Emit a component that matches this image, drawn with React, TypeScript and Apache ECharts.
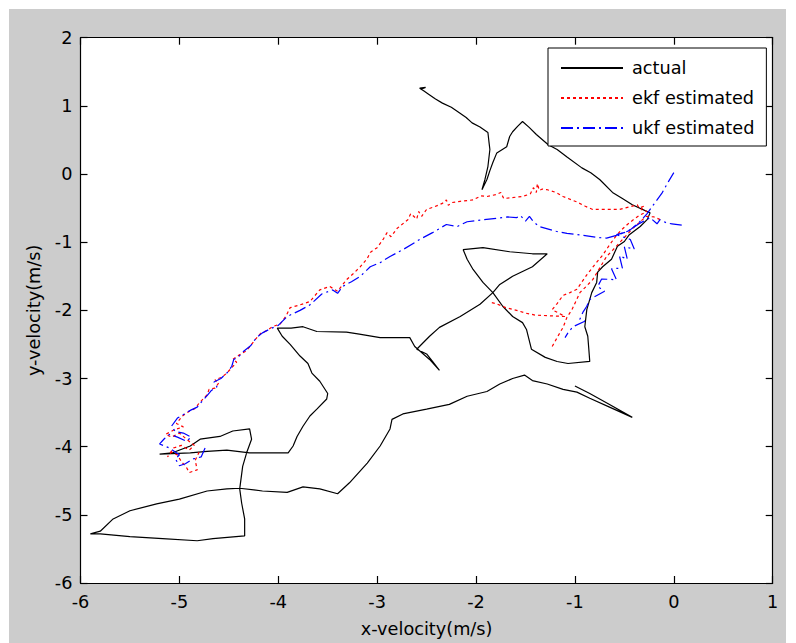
import React, { useEffect, useRef } from "react";
import * as echarts from "echarts";

const xTicks = [-6, -5, -4, -3, -2, -1, 0, 1];
const yTicks = [-6, -5, -4, -3, -2, -1, 0, 1, 2];
const seriesNames = ["actual", "ekf estimated", "ukf estimated"];

const actualVelocity = [
  [-2.55, 1.25], [-2.51, 1.27], [-2.57, 1.26], [-2.53, 1.22], [-2.48, 1.17], [-2.41, 1.1], [-2.34, 1.04],
  [-2.25, 0.98], [-2.18, 0.91], [-2.1, 0.83], [-2.04, 0.75], [-1.96, 0.69], [-1.88, 0.61], [-1.87, 0.48],
  [-1.86, 0.36], [-1.88, 0.11], [-1.91, -0.08], [-1.94, -0.23], [-1.89, -0.08], [-1.86, 0.05], [-1.83, 0.17],
  [-1.79, 0.31], [-1.69, 0.4], [-1.66, 0.55], [-1.63, 0.62], [-1.58, 0.7], [-1.53, 0.77], [-1.46, 0.68],
  [-1.39, 0.58], [-1.27, 0.43], [-1.18, 0.36], [-1.08, 0.25], [-0.93, 0.09], [-0.84, 0.02], [-0.75, -0.08],
  [-0.62, -0.27], [-0.52, -0.36], [-0.42, -0.45], [-0.24, -0.57], [-0.27, -0.67], [-0.34, -0.77],
  [-0.45, -0.89], [-0.5, -0.99], [-0.57, -1.06], [-0.63, -1.25], [-0.72, -1.36], [-0.77, -1.44],
  [-0.78, -1.59], [-0.83, -1.74], [-0.88, -1.99], [-0.9, -2.24], [-0.87, -2.38], [-0.86, -2.56],
  [-0.85, -2.75], [-1.07, -2.78], [-1.18, -2.75], [-1.3, -2.69], [-1.44, -2.57], [-1.49, -2.28],
  [-1.53, -2.18], [-1.63, -2.09], [-1.73, -1.94], [-1.83, -1.74], [-1.93, -1.59], [-2.03, -1.4],
  [-2.09, -1.25], [-2.13, -1.11], [-1.93, -1.08], [-1.66, -1.14], [-1.43, -1.17], [-1.28, -1.17],
  [-1.43, -1.36], [-1.63, -1.5], [-1.76, -1.62], [-1.83, -1.74], [-1.96, -1.91], [-2.16, -2.09],
  [-2.37, -2.25], [-2.47, -2.38], [-2.6, -2.57], [-2.5, -2.64], [-2.44, -2.75], [-2.37, -2.88],
  [-2.47, -2.72], [-2.62, -2.53], [-2.67, -2.4], [-2.97, -2.4], [-3.18, -2.35], [-3.31, -2.32],
  [-3.61, -2.31], [-3.75, -2.24], [-3.87, -2.26], [-4.01, -2.26], [-3.96, -2.38], [-3.88, -2.5],
  [-3.78, -2.67], [-3.7, -2.78], [-3.66, -2.92], [-3.58, -3.04], [-3.5, -3.22], [-3.51, -3.3],
  [-3.61, -3.45], [-3.68, -3.55], [-3.75, -3.7], [-3.81, -3.85], [-3.85, -3.99], [-3.9, -4.09],
  [-4.29, -4.09], [-4.52, -4.05], [-4.72, -4.07], [-4.89, -4.09], [-5.2, -4.11], [-5.07, -4.09],
  [-4.89, -3.99], [-4.79, -3.89], [-4.59, -3.85], [-4.46, -3.77], [-4.29, -3.74], [-4.27, -3.89],
  [-4.32, -4.09], [-4.36, -4.29], [-4.39, -4.62], [-4.37, -4.83], [-4.34, -5.06], [-4.34, -5.31],
  [-4.66, -5.35], [-4.82, -5.38], [-5.17, -5.35], [-5.5, -5.32], [-5.8, -5.28], [-5.9, -5.28],
  [-5.8, -5.24], [-5.67, -5.06], [-5.5, -4.94], [-5.23, -4.84], [-5.0, -4.77], [-4.72, -4.65],
  [-4.52, -4.62], [-4.39, -4.61], [-4.16, -4.65], [-3.91, -4.67], [-3.75, -4.59], [-3.58, -4.62],
  [-3.4, -4.69], [-3.28, -4.53], [-3.1, -4.24], [-2.97, -3.99], [-2.87, -3.74], [-2.85, -3.6],
  [-2.74, -3.52], [-2.5, -3.45], [-2.27, -3.38], [-2.09, -3.26], [-1.89, -3.19], [-1.76, -3.08],
  [-1.63, -3.0], [-1.51, -2.95], [-1.43, -3.03], [-1.28, -3.08], [-1.12, -3.16], [-0.98, -3.2],
  [-0.85, -3.29], [-0.65, -3.42], [-0.42, -3.57], [-0.65, -3.38], [-0.85, -3.22], [-1.0, -3.11],
];

const ekfMain = [
  [-4.8, -4.08], [-4.84, -4.2], [-4.82, -4.34], [-4.9, -4.38], [-4.93, -4.3], [-4.98, -4.22],
  [-5.02, -4.12], [-5.08, -4.08], [-5.12, -4.15], [-5.06, -4.02], [-4.98, -3.98], [-4.9, -4.05],
  [-4.85, -3.98], [-4.92, -3.9], [-5.0, -3.8], [-5.08, -3.86], [-5.14, -3.82], [-5.05, -3.75],
  [-4.96, -3.71], [-5.03, -3.66], [-4.97, -3.55], [-4.9, -3.48], [-4.84, -3.44], [-4.8, -3.36],
  [-4.76, -3.3], [-4.72, -3.24], [-4.7, -3.16], [-4.64, -3.14], [-4.6, -3.06], [-4.64, -3.02],
  [-4.57, -2.98], [-4.52, -2.92], [-4.47, -2.84], [-4.42, -2.76], [-4.46, -2.72], [-4.4, -2.66],
  [-4.33, -2.6], [-4.28, -2.52], [-4.24, -2.44], [-4.18, -2.34], [-4.12, -2.3], [-4.06, -2.24],
  [-3.98, -2.2], [-3.92, -2.08], [-3.88, -1.96], [-3.78, -1.92], [-3.68, -1.87], [-3.58, -1.7],
  [-3.48, -1.65], [-3.4, -1.72], [-3.31, -1.55], [-3.24, -1.46], [-3.17, -1.36], [-3.1, -1.24],
  [-3.07, -1.15], [-3.0, -1.08], [-2.94, -0.96], [-2.9, -0.86], [-2.86, -0.92], [-2.8, -0.8],
  [-2.69, -0.67], [-2.66, -0.58], [-2.6, -0.66], [-2.58, -0.55], [-2.55, -0.62], [-2.5, -0.52],
  [-2.42, -0.48], [-2.34, -0.43], [-2.3, -0.38], [-2.28, -0.46], [-2.25, -0.42], [-2.16, -0.4],
  [-2.03, -0.38], [-1.95, -0.32], [-1.89, -0.33], [-1.79, -0.3], [-1.75, -0.27], [-1.72, -0.36],
  [-1.66, -0.35], [-1.53, -0.33], [-1.45, -0.29], [-1.42, -0.2], [-1.39, -0.27], [-1.38, -0.14],
  [-1.36, -0.24], [-1.33, -0.22], [-1.28, -0.23], [-1.19, -0.27], [-1.12, -0.33], [-0.98, -0.41],
  [-0.9, -0.47], [-0.82, -0.52], [-0.68, -0.52], [-0.55, -0.52], [-0.44, -0.48], [-0.37, -0.45],
  [-0.35, -0.5], [-0.3, -0.47], [-0.33, -0.52], [-0.27, -0.55], [-0.34, -0.6], [-0.4, -0.66],
  [-0.47, -0.74], [-0.53, -0.82], [-0.58, -0.9], [-0.65, -1.04], [-0.72, -1.19], [-0.8, -1.33],
  [-0.88, -1.48], [-0.98, -1.69], [-1.05, -1.74], [-1.12, -1.78], [-1.18, -1.9], [-1.23, -1.99],
  [-1.1, -2.09], [-1.25, -2.08], [-1.4, -2.07], [-1.5, -2.04], [-1.59, -2.0], [-1.7, -1.96],
  [-1.8, -1.9], [-1.86, -1.88],
];

const ekfBranch = [
  [-1.23, -2.53], [-1.18, -2.4], [-1.12, -2.25], [-1.08, -2.1], [-1.03, -1.99], [-0.95, -1.74],
  [-0.88, -1.64], [-0.82, -1.55], [-0.75, -1.38], [-0.68, -1.21], [-0.62, -1.12], [-0.55, -1.01],
  [-0.48, -0.9], [-0.41, -0.79], [-0.34, -0.7], [-0.28, -0.62], [-0.2, -0.63], [-0.12, -0.68],
];

const ukfMain = [
  [-4.74, -4.02], [-4.78, -4.15], [-4.86, -4.18], [-4.94, -4.25], [-5.0, -4.28], [-5.04, -4.18],
  [-5.0, -4.12], [-5.1, -4.02], [-5.2, -3.96], [-5.15, -3.88], [-5.1, -3.82], [-5.02, -3.86],
  [-4.93, -3.92], [-4.88, -3.86], [-4.96, -3.8], [-5.04, -3.78], [-5.08, -3.7], [-5.02, -3.58],
  [-4.95, -3.52], [-4.88, -3.46], [-4.82, -3.42], [-4.78, -3.35], [-4.72, -3.25], [-4.68, -3.18],
  [-4.62, -3.12], [-4.65, -3.05], [-4.58, -3.0], [-4.52, -2.92], [-4.47, -2.82], [-4.45, -2.72],
  [-4.4, -2.68], [-4.35, -2.6], [-4.28, -2.52], [-4.22, -2.4], [-4.16, -2.33], [-4.08, -2.27],
  [-4.0, -2.22], [-3.91, -2.09], [-3.78, -2.0], [-3.68, -1.92], [-3.56, -1.76], [-3.45, -1.7],
  [-3.4, -1.75], [-3.35, -1.65], [-3.26, -1.58], [-3.17, -1.5], [-3.07, -1.36], [-2.97, -1.3],
  [-2.87, -1.21], [-2.74, -1.11], [-2.57, -0.96], [-2.44, -0.86], [-2.3, -0.74], [-2.19, -0.77],
  [-2.09, -0.7], [-1.93, -0.67], [-1.79, -0.65], [-1.68, -0.63], [-1.59, -0.64], [-1.55, -0.61],
  [-1.5, -0.69], [-1.46, -0.62], [-1.42, -0.7], [-1.36, -0.77], [-1.19, -0.84], [-1.08, -0.87],
  [-0.92, -0.9], [-0.78, -0.93], [-0.68, -0.94], [-0.58, -0.9], [-0.45, -0.83], [-0.35, -0.71],
  [-0.27, -0.58], [-0.19, -0.42], [-0.12, -0.28], [-0.05, -0.1], [0.0, 0.02],
];

const ukfBranch = [
  [0.08, -0.75], [-0.02, -0.73], [-0.07, -0.72], [-0.14, -0.67], [-0.17, -0.73], [-0.24, -0.64],
  [-0.34, -0.72], [-0.48, -0.85], [-0.58, -0.89], [-0.44, -0.96], [-0.4, -1.1], [-0.5, -1.07],
  [-0.47, -1.25], [-0.55, -1.2], [-0.52, -1.38], [-0.63, -1.39], [-0.58, -1.55], [-0.73, -1.54],
  [-0.77, -1.65], [-0.7, -1.72], [-0.85, -1.84], [-0.88, -1.94], [-0.92, -2.03], [-0.95, -2.13],
  [-0.9, -2.16], [-1.02, -2.24], [-1.07, -2.33], [-1.1, -2.4],
];

const FONT = "DejaVu Sans";
const FS = 17.7;

export default function App() {
  const ref = useRef<HTMLDivElement>(null);

  useEffect(() => {
    if (!ref.current) return;
    const chart = echarts.init(ref.current, null, { renderer: "svg" });
    const axisText = { fontFamily: FONT, fontSize: FS, color: "#000" };
    const lineAxis = { show: true, onZero: false, lineStyle: { color: "#000", width: 1.2 } };
    const tick = { show: true, inside: true, length: 7, lineStyle: { color: "#000", width: 1.2 } };
    const xBase = { type: "value", min: xTicks[0], max: xTicks[xTicks.length - 1], interval: 1, splitLine: { show: false } };
    const yBase = { type: "value", min: yTicks[0], max: yTicks[yTicks.length - 1], interval: 1, splitLine: { show: false } };

    const black = { color: "#000", width: 1.2, type: "solid" };
    const red = { color: "#ff0000", width: 1.2, type: [3, 3] };
    const blue = { color: "#0000ff", width: 1.2, type: [12, 4, 2, 4] };
    const mk = (name: string, data: number[][], ls: any) => ({
      name,
      type: "line",
      data,
      symbol: "none",
      showSymbol: false,
      lineStyle: ls,
      itemStyle: { color: ls.color },
      xAxisIndex: 0,
      yAxisIndex: 0,
      silent: true,
    });

    chart.setOption({
      animation: false,
      backgroundColor: "#cccccc",
      grid: {
        left: 71.5,
        top: 28.7,
        right: 13.3,
        bottom: 59,
        show: true,
        backgroundColor: "#ffffff",
        borderWidth: 0,
      },
      xAxis: [
        {
          ...xBase,
          position: "bottom",
          axisLine: lineAxis,
          axisTick: tick,
          axisLabel: { ...axisText, margin: 10 },
          name: "x-velocity(m/s)",
          nameLocation: "middle",
          nameGap: 37,
          nameTextStyle: axisText,
        },
        { ...xBase, position: "top", axisLine: lineAxis, axisTick: tick, axisLabel: { show: false } },
      ],
      yAxis: [
        {
          ...yBase,
          position: "left",
          axisLine: lineAxis,
          axisTick: tick,
          axisLabel: { ...axisText, margin: 8 },
          name: "y-velocity(m/s)",
          nameLocation: "middle",
          nameGap: 38,
          nameTextStyle: axisText,
        },
        { ...yBase, position: "right", axisLine: lineAxis, axisTick: tick, axisLabel: { show: false } },
      ],
      legend: {
        data: seriesNames,
        orient: "vertical",
        left: 539,
        top: 39,
        padding: [11, 12, 9, 12],
        itemGap: 12,
        itemWidth: 62,
        itemHeight: 18,
        backgroundColor: "#fff",
        borderColor: "#000",
        borderWidth: 1,
        borderRadius: 0,
        itemStyle: { opacity: 0 },
        textStyle: { ...axisText, padding: [0, 0, 0, 4] },
        selectedMode: false,
      },
      series: [
        mk(seriesNames[0], actualVelocity, black),
        mk(seriesNames[1], ekfMain, red),
        mk(seriesNames[1], ekfBranch, red),
        mk(seriesNames[2], ukfMain, blue),
        mk(seriesNames[2], ukfBranch, blue),
      ],
    });
    return () => chart.dispose();
  }, []);

  return (
    <div style={{ position: "fixed", left: 0, top: 0, width: 796, height: 643, background: "#fff" }}>
      <div ref={ref} style={{ position: "absolute", left: 9, top: 9, width: 777, height: 634 }} />
    </div>
  );
}
